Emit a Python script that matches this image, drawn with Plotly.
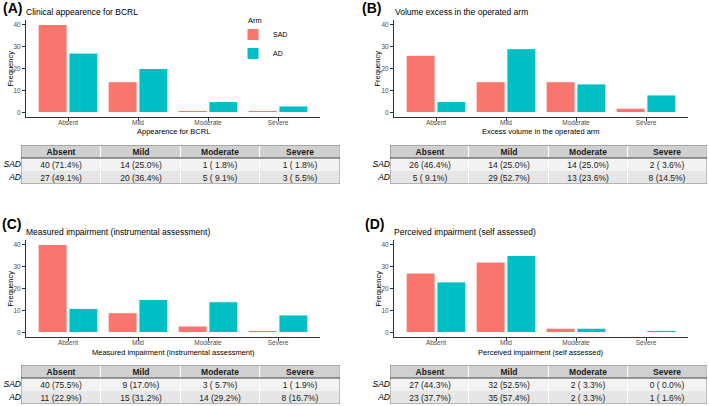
import plotly.graph_objects as go

W, H = 709, 406
FONT = "Liberation Sans, Arial, sans-serif"

categories = ["Absent", "Mild", "Moderate", "Severe"]
arms = ["SAD", "AD"]

panel_letters = ["(A)", "(B)", "(C)", "(D)"]
panel_titles = ["Clinical appearence for BCRL", "Volume excess in the operated arm",
                "Measured impairment (instrumental assessment)", "Perceived impairment (self assessed)"]
x_titles = ["Appearence for BCRL", "Excess volume in the operated arm",
            "Measured impairment (instrumental assessment)", "Perceived impairment (self assessed)"]

A_sad = [40, 14, 1, 1]
A_ad = [27, 20, 5, 3]
B_sad = [26, 14, 14, 2]
B_ad = [5, 29, 13, 8]
C_sad = [40, 9, 3, 1]
C_ad = [11, 15, 14, 8]
D_sad = [27, 32, 2, 0]
D_ad = [23, 35, 2, 1]

A_sad_pct = [71.4, 25.0, 1.8, 1.8]
A_ad_pct = [49.1, 36.4, 9.1, 5.5]
B_sad_pct = [46.4, 25.0, 25.0, 3.6]
B_ad_pct = [9.1, 52.7, 23.6, 14.5]
C_sad_pct = [75.5, 17.0, 5.7, 1.9]
C_ad_pct = [22.9, 31.2, 29.2, 16.7]
D_sad_pct = [44.3, 52.5, 3.3, 0.0]
D_ad_pct = [37.7, 57.4, 3.3, 1.6]

y_ticks = [0, 10, 20, 30, 40]

SAD_COL = "#F8766D"
AD_COL = "#00BFC4"

sad_vals = [A_sad, B_sad, C_sad, D_sad]
ad_vals = [A_ad, B_ad, C_ad, D_ad]
sad_pcts = [A_sad_pct, B_sad_pct, C_sad_pct, D_sad_pct]
ad_pcts = [A_ad_pct, B_ad_pct, C_ad_pct, D_ad_pct]

# layout geometry in pixels (left, right, top, bottom of plot area), per panel
plot_boxes = [(26, 320, 20, 117), (394, 688, 20, 117), (26, 320, 240, 337), (394, 688, 240, 337)]
table_boxes = [(21, 340, 145), (390, 707, 145), (21, 340, 365), (390, 707, 365)]
letter_pos = [(1, 8), (360, 8), (0, 224), (363, 224)]
title_pos = [(24, 12), (393, 12), (24, 232), (392, 232)]
freq_x = [10, 377, 10, 378]
xtitle_y = [131, 131, 352, 352]
ROWS_PX = 39

def px(x):
    return x / W

def py(y):
    return max(0.0, min(1.0, 1 - y / H))

fig = go.Figure()
layout = dict(width=W, height=H, margin=dict(l=0, r=0, t=0, b=0),
              paper_bgcolor="white", plot_bgcolor="white",
              font=dict(family=FONT), barmode="group", bargap=0.12, bargroupgap=0.06,
              annotations=[], shapes=[])

for i in range(4):
    sfx = "" if i == 0 else str(i + 1)
    xa, ya = "x" + sfx, "y" + sfx
    fig.add_trace(go.Bar(x=categories, y=sad_vals[i], name="SAD", marker=dict(color=SAD_COL, line=dict(color="white", width=1)),
                         xaxis=xa, yaxis=ya, showlegend=(i == 0), legendgroup="SAD", hoverinfo="skip"))
    fig.add_trace(go.Bar(x=categories, y=ad_vals[i], name="AD", marker=dict(color=AD_COL, line=dict(color="white", width=1)),
                         xaxis=xa, yaxis=ya, showlegend=(i == 0), legendgroup="AD", hoverinfo="skip"))
    l, r, t, b = plot_boxes[i]
    layout["xaxis" + sfx] = dict(domain=[px(l), px(r)], anchor=ya, range=[-0.6, 3.6], type="category",
                                  showline=True, linecolor="#333333", linewidth=1, ticks="outside", ticklen=3,
                                  tickcolor="#333333", tickfont=dict(size=6.5, color="#4d4d4d", family=FONT),
                                  ticklabelstandoff=-4,
                                  showgrid=False, zeroline=False, fixedrange=True)
    layout["yaxis" + sfx] = dict(domain=[py(b), py(t)], anchor=xa, range=[-2, 42], tickvals=y_ticks,
                                  showline=True, linecolor="#333333", linewidth=1, ticks="outside", ticklen=3,
                                  tickcolor="#333333", tickfont=dict(size=6.5, color="#4d4d4d", family=FONT),
                                  showgrid=False, zeroline=False, fixedrange=True)
    # titles
    lx, ly = letter_pos[i]
    layout["annotations"].append(dict(text="<b>" + panel_letters[i] + "</b>", x=px(lx), y=py(ly), xref="paper", yref="paper",
                                      xanchor="left", yanchor="middle", showarrow=False,
                                      font=dict(size=14, color="black", family=FONT)))
    tx, ty = title_pos[i]
    layout["annotations"].append(dict(text=panel_titles[i], x=px(tx), y=py(ty), xref="paper", yref="paper",
                                      xanchor="left", yanchor="middle", showarrow=False,
                                      font=dict(size=8.5, color="black", family=FONT)))
    layout["annotations"].append(dict(text=x_titles[i], x=px((l + r) / 2), y=py(xtitle_y[i]), xref="paper", yref="paper",
                                      xanchor="center", yanchor="middle", showarrow=False,
                                      font=dict(size=7.5, color="black", family=FONT)))
    layout["annotations"].append(dict(text="Frequency", x=px(freq_x[i]), y=py((t + b) / 2), xref="paper", yref="paper",
                                      xanchor="center", yanchor="middle", showarrow=False, textangle=-90,
                                      font=dict(size=7.5, color="black", family=FONT)))

    # summary table drawn as a heatmap on its own axes
    tsfx = str(i + 5)
    txa, tya = "x" + tsfx, "y" + tsfx
    tl, tr, tt = table_boxes[i]
    sad_txt = ["%d (%4.1f%%)" % (n, p) for n, p in zip(sad_vals[i], sad_pcts[i])]
    ad_txt = ["%d (%4.1f%%)" % (n, p) for n, p in zip(ad_vals[i], ad_pcts[i])]
    header_txt = ["<b>%s</b>" % c for c in categories]
    fig.add_trace(go.Heatmap(
        x=[0, 1, 2, 3], y=[0, 1, 2],
        z=[[2] * 4, [0] * 4, [1] * 4],
        text=[header_txt, sad_txt, ad_txt], texttemplate="%{text}",
        textfont=dict(size=8.5, color="#1a1a1a", family=FONT),
        colorscale=[[0, "#f3f3f3"], [0.5, "#e6e6e6"], [1, "#d0d0d0"]], zmin=0, zmax=2,
        showscale=False, xgap=1, ygap=0, hoverinfo="skip", xaxis=txa, yaxis=tya))
    layout["xaxis" + tsfx] = dict(domain=[px(tl), px(tr)], anchor=tya, range=[-0.5, 3.5], visible=False,
                                   fixedrange=True)
    layout["yaxis" + tsfx] = dict(domain=[py(tt + ROWS_PX), py(tt)], anchor=txa, range=[2.5, -0.5],
                                   tickvals=[1, 2], ticktext=["<i>SAD</i>", "<i>AD</i>"], ticks="",
                                   showline=False, showgrid=False, zeroline=False, ticklabelstandoff=-1,
                                   tickfont=dict(size=8.5, color="black", family=FONT), fixedrange=True)
    layout["shapes"].append(dict(type="rect", xref=txa, yref=tya, x0=-0.5, x1=3.5, y0=-0.5, y1=2.5,
                                 line=dict(color="#7f7f7f", width=1), layer="above"))
    layout["shapes"].append(dict(type="line", xref=txa, yref=tya, x0=-0.5, x1=3.5, y0=0.5, y1=0.5,
                                 line=dict(color="#444444", width=1.2), layer="above"))

layout["annotations"].append(dict(text="Arm", x=px(246), y=py(20), xref="paper", yref="paper",
                                  xanchor="left", yanchor="middle", showarrow=False,
                                  font=dict(size=7.5, color="black", family=FONT)))
layout["legend"] = dict(x=px(233), y=py(20), xanchor="left", yanchor="top", bgcolor="rgba(0,0,0,0)",
                        font=dict(size=7, color="black", family=FONT), tracegroupgap=0, itemwidth=30)

fig.update_layout(**layout)
fig.write_html("out.html", config={"displayModeBar": False},
               post_script="document.body.style.margin='0';document.body.style.padding='0';")
